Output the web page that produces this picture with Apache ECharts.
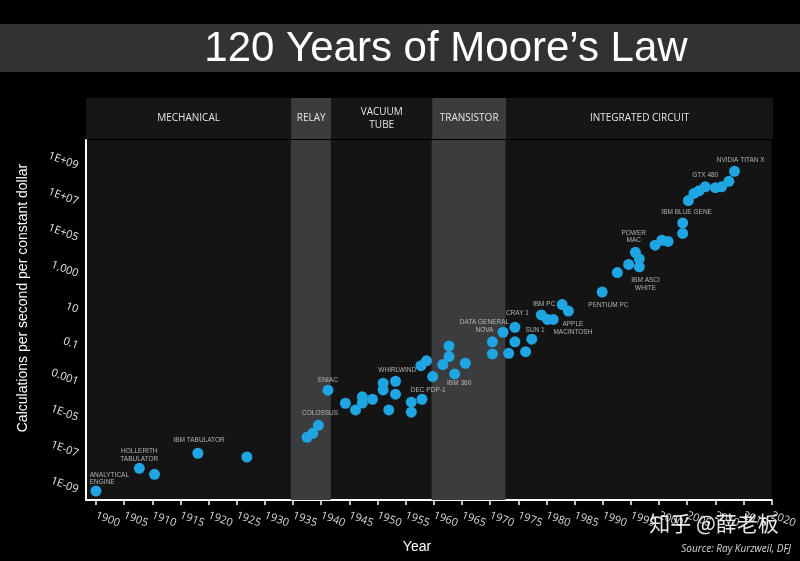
<!DOCTYPE html>
<html>
<head>
<meta charset="utf-8">
<title>120 Years of Moore's Law</title>
<script src="https://cdn.jsdelivr.net/npm/echarts@6/dist/echarts.min.js"></script>
<style>
  html, body { margin: 0; padding: 0; background: #000; }
  #chart { width: 800px; height: 561px; }
</style>
</head>
<body>
<div id="chart"></div>
<script>
// year of each machine and its calculations per second per constant dollar
const years = [
  1900.0, 1907.7, 1910.4, 1918.1, 1926.8, 1937.5, 1938.5, 1939.5, 1941.2, 1944.3,
  1946.1, 1947.3, 1947.3, 1949.1, 1951.0, 1951.0, 1952.0, 1953.2, 1953.2, 1956.0,
  1956.0, 1957.9, 1957.7, 1958.7, 1959.8, 1961.6, 1962.7, 1962.7, 1963.7, 1965.6,
  1970.4, 1970.4, 1972.3, 1973.3, 1974.4, 1974.4, 1976.3, 1977.4, 1979.1, 1980.2,
  1981.2, 1982.8, 1983.9, 1989.9, 1992.6, 1994.6, 1996.5, 1996.5, 1995.8, 1999.3,
  2000.5, 2001.6, 2004.2, 2004.2, 2005.2, 2006.2, 2007.1, 2008.2, 2010.0, 2011.1,
  2012.4, 2013.4
]
const calcs = [
  8.7e-10, 1.6e-8, 7.4e-9, 1.1e-7, 6.8e-8, 8.5e-7, 1.4e-6, 3.9e-6, 3.5e-4, 6.6e-5,
  2.8e-5, 1.5e-4, 6.8e-5, 1.1e-4, 8.5e-4, 3.6e-4, 2.8e-5, 1.1e-3, 2.1e-4, 7.6e-5,
  2.1e-5, 1.1e-4, 8.1e-3, 1.5e-2, 2.0e-3, 9.3e-3, 2.6e-2, 0.1, 2.8e-3, 1.1e-2,
  0.17, 0.036, 0.58, 0.039, 1.1, 0.17, 0.048, 0.24, 5.3, 3.0,
  3.0, 20, 8.8, 100, 1200, 3400, 2500, 7000, 1.6e4, 4.0e4,
  7.5e4, 6.4e4, 1.8e5, 6.8e5, 1.2e7, 3.0e7, 4.2e7, 7.0e7, 6.2e7, 7.0e7,
  1.4e8, 5.1e8
]

// machine names written on the chart and where they sit
const noteNames = [
  'ANALYTICAL\nENGINE', 'HOLLERITH\nTABULATOR', 'IBM TABULATOR', 'COLOSSUS', 'ENIAC',
  'WHIRLWIND', 'DEC PDP-1', 'IBM 360', 'DATA GENERAL\nNOVA', 'CRAY 1', 'SUN 1',
  'IBM PC', 'APPLE\nMACINTOSH', 'PENTIUM PC', 'IBM ASCI\nWHITE', 'POWER\nMAC',
  'IBM BLUE GENE', 'GTX 480', 'NVIDIA TITAN X'
]
const noteYears = [
  1898.9, 1907.7, 1918.3, 1939.8, 1941.2, 1953.5, 1959.0, 1964.5, 1969.0, 1974.85,
  1978.0, 1979.6, 1984.7, 1991.0, 1997.6, 1995.5, 2004.9, 2008.2, 2014.5
]
const noteValues = [
  4.3e-9, 8.5e-8, 5.5e-7, 1.8e-5, 1.3e-3, 4.7e-3, 3.6e-4, 8.5e-4, 1.26, 6.6,
  0.78, 21, 1.0, 18, 270, 1.2e5, 2.6e6, 3.0e8, 2.1e9
]

// technology eras
const eraNames = ['MECHANICAL', 'RELAY', 'VACUUM\nTUBE', 'TRANSISTOR', 'INTEGRATED CIRCUIT']
const eraStart = [1898.23, 1934.6, 1941.7, 1959.6, 1972.7]
const eraEnd = [1934.6, 1941.7, 1959.6, 1972.7, 2020]

const xTickValues = [
  1900, 1905, 1910, 1915, 1920, 1925, 1930, 1935, 1940, 1945, 1950, 1955, 1960,
  1965, 1970, 1975, 1980, 1985, 1990, 1995, 2000, 2005, 2010, 2015, 2020
]
const yTickValues = [1e-9, 1e-7, 1e-5, 1e-3, 1e-1, 1e1, 1e3, 1e5, 1e7, 1e9]
const yTickLabels = ['1E-09', '1E-07', '1E-05', '0.001', '0.1', '10', '1,000', '1E+05', '1E+07', '1E+09']

const highlightEras = ['RELAY', 'TRANSISTOR']
const bandColor = '#3a3c3e'
const darkColor = '#141414'
const dotColor = '#1fa5e2'

const chart = echarts.init(document.getElementById('chart'))

const yLabel = v => {
  const e = Math.log10(v)
  const i = yTickValues.findIndex(t => Math.abs(Math.log10(t) - e) < 0.01)
  return i >= 0 ? yTickLabels[i] : ''
}

const option = {
  backgroundColor: '#000',
  animation: false,
  grid: [{
    left: 86, right: 27, top: 140, bottom: 61,
    show: true, backgroundColor: darkColor, borderWidth: 0
  }, {
    left: 86, right: 27, top: 98, height: 41,
    show: true, backgroundColor: darkColor, borderWidth: 0
  }],
  xAxis: [{
    type: 'value',
    gridIndex: 0,
    min: 1898.23,
    max: 2020,
    splitLine: { show: false },
    axisLine: { onZero: false, lineStyle: { color: '#fff', width: 2 } },
    axisTick: { customValues: xTickValues, length: 5, lineStyle: { color: '#fff', width: 1.5 } },
    axisLabel: {
      customValues: xTickValues,
      formatter: v => String(v),
      rotate: -20,
      margin: 15,
      color: '#d8d8d8',
      fontSize: 11,
      fontFamily: 'Open Sans'
    }
  }, {
    type: 'value', gridIndex: 1, min: 1898.23, max: 2020, show: false
  }],
  yAxis: [{
    type: 'log',
    logBase: 10,
    gridIndex: 0,
    min: Math.pow(10, -9.556),
    max: Math.pow(10, 10.444),
    splitLine: { show: false },
    axisTick: { show: false },
    axisLine: { show: true, lineStyle: { color: '#fff', width: 2 } },
    axisLabel: {
      customValues: yTickValues,
      formatter: yLabel,
      rotate: -20,
      margin: 8,
      color: '#e8e8e8',
      fontSize: 11,
      fontFamily: 'Open Sans'
    }
  }, {
    type: 'value', gridIndex: 1, min: 0, max: 1, show: false
  }],
  series: [{
    // header row with era names
    type: 'scatter',
    xAxisIndex: 1,
    yAxisIndex: 1,
    data: [],
    silent: true,
    markArea: {
      silent: true,
      label: {
        position: 'inside',
        color: '#e4e4e4',
        fontSize: 10,
        lineHeight: 13,
        fontFamily: 'Open Sans'
      },
      data: eraNames.map((name, i) => [{
        name: name,
        xAxis: eraStart[i],
        itemStyle: { color: highlightEras.includes(name) ? bandColor : '#161616' }
      }, { xAxis: eraEnd[i] }])
    }
  }, {
    name: 'Calculations',
    type: 'scatter',
    symbolSize: 11,
    itemStyle: { color: dotColor, opacity: 1 },
    data: years.map((y, i) => [y, calcs[i]]),
    z: 5,
    markArea: {
      silent: true,
      label: { show: false },
      itemStyle: { color: bandColor },
      data: eraNames.filter(n => highlightEras.includes(n)).map(n => {
        const i = eraNames.indexOf(n)
        return [{ xAxis: eraStart[i] }, { xAxis: eraEnd[i] }]
      })
    }
  }, {
    // machine names
    type: 'scatter',
    symbolSize: 0,
    silent: true,
    z: 6,
    label: {
      show: true,
      position: 'inside',
      formatter: p => p.data.value[2],
      color: '#d6d6d6',
      fontSize: 6.5,
      lineHeight: 7.5,
      fontFamily: 'Liberation Sans'
    },
    data: noteNames.map((n, i) => ({
      value: [noteYears[i], noteValues[i], n],
      label: i === 0 ? { align: 'left' } : {}
    }))
  }],
  graphic: [{
    type: 'rect',
    shape: { x: 0, y: 24, width: 800, height: 48 },
    style: { fill: '#323232' },
    silent: true
  }, {
    type: 'text',
    x: 446, y: 49,
    style: {
      text: '120 Years of Moore\u2019s Law',
      fill: '#fff',
      font: '42px "Liberation Sans", Arial, sans-serif',
      align: 'center',
      verticalAlign: 'middle'
    }
  }, {
    type: 'text',
    x: 23, y: 298,
    rotation: Math.PI / 2,
    style: {
      text: 'Calculations per second per constant dollar',
      fill: '#fff',
      font: '14px "Liberation Sans", Arial, sans-serif',
      align: 'center',
      verticalAlign: 'middle'
    }
  }, {
    type: 'text',
    x: 417, y: 547,
    style: {
      text: 'Year',
      fill: '#fff',
      font: '14px "Liberation Sans", Arial, sans-serif',
      align: 'center',
      verticalAlign: 'middle'
    }
  }, {
    type: 'text',
    x: 791, y: 549,
    style: {
      text: 'Source: Ray Kurzweil, DFJ',
      fill: '#d8d8d8',
      font: 'italic 10px "Open Sans", sans-serif',
      align: 'right',
      verticalAlign: 'middle'
    }
  }, {
    type: 'text',
    x: 714, y: 523,
    z: 100,
    style: {
      text: '知乎 @薛老板',
      fill: 'rgba(255,255,255,0.9)',
      font: '21px "Noto Sans CJK SC", sans-serif',
      align: 'center',
      verticalAlign: 'middle'
    }
  }]
}

chart.setOption(option)
</script>
</body>
</html>
